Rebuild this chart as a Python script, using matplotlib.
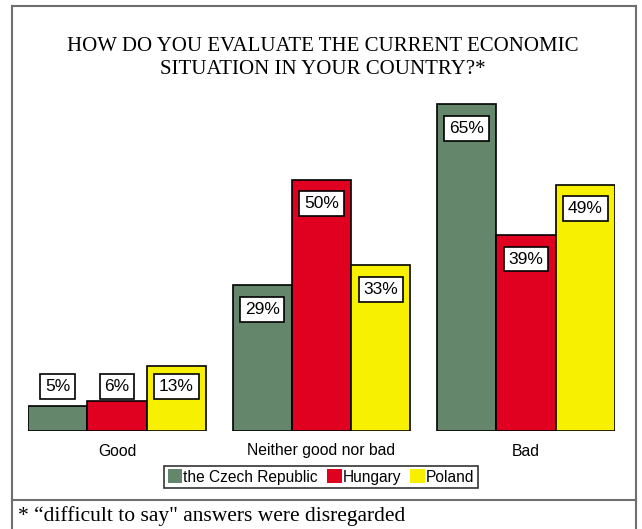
import matplotlib
matplotlib.use('Agg')
import matplotlib.pyplot as plt
import numpy as np

categories = ["Good", "Neither good nor bad", "Bad"]
countries = ["the Czech Republic", "Hungary", "Poland"]
czech = [5, 29, 65]
hungary = [6, 50, 39]
poland = [13, 33, 49]
colors = ["#64876C", "#E0001F", "#F7F000"]

W, H = 642, 529
fig = plt.figure(figsize=(W / 100, H / 100), dpi=100)

# frame lines around chart and footnote
line_kw = dict(color="#6E6E6E", lw=1.5, transform=fig.transFigure)
fig.add_artist(plt.Line2D([12 / W, 12 / W], [0, 1 - 6 / H], **line_kw))
fig.add_artist(plt.Line2D([636 / W, 636 / W], [0, 1 - 6 / H], **line_kw))
fig.add_artist(plt.Line2D([12 / W, 636 / W], [1 - 6 / H, 1 - 6 / H], **line_kw))
fig.add_artist(plt.Line2D([12 / W, 636 / W], [1 - 500 / H, 1 - 500 / H], **line_kw))

fig.text(323 / W, 1 - 58 / H,
         "HOW DO YOU EVALUATE THE CURRENT ECONOMIC\nSITUATION IN YOUR COUNTRY?*",
         ha="center", va="center", fontsize=15, family="Liberation Serif",
         linespacing=1.3)

ax = fig.add_axes([28 / W, (H - 431) / H, 587 / W, 352 / H])
x = np.arange(len(categories))
bw = 0.29
for i, (vals, name) in enumerate(zip([czech, hungary, poland], countries)):
    xs = x + (i - 1) * bw
    ax.bar(xs, vals, width=bw, color=colors[i], edgecolor="black",
           linewidth=1.2, label=name)
    for xi, v in zip(xs, vals):
        ly = max(v - 4.8, 8.8)
        ax.text(xi, ly, "%d%%" % v, ha="center", va="center", fontsize=12.5,
                family="Liberation Sans",
                bbox=dict(boxstyle="square,pad=0.28", fc="white", ec="black", lw=1.2))

ax.set_xlim(-0.435, 2.435)
ax.set_ylim(0, 70)
ax.set_yticks([])
ax.set_xticks(x)
ax.set_xticklabels(categories, family="Liberation Sans", fontsize=11.3)
ax.tick_params(axis="x", length=0, pad=9)
for s in ax.spines.values():
    s.set_visible(False)

leg = fig.legend(loc="center", bbox_to_anchor=(321 / W, 1 - 477 / H), ncol=3,
                 prop={"family": "Liberation Sans", "size": 11.2},
                 frameon=True, fancybox=False, edgecolor="black",
                 handlelength=0.95, handleheight=0.95, handletextpad=0.05,
                 columnspacing=0.6, borderpad=0.2, borderaxespad=0)
leg.get_frame().set_linewidth(1.2)
for h in leg.legend_handles:
    h.set_edgecolor("none")

fig.text(18 / W, 1 - 516 / H, "* \u201cdifficult to say\" answers were disregarded",
         ha="left", va="center", fontsize=15.5, family="Liberation Serif")

fig.savefig("out.png", dpi=100)
